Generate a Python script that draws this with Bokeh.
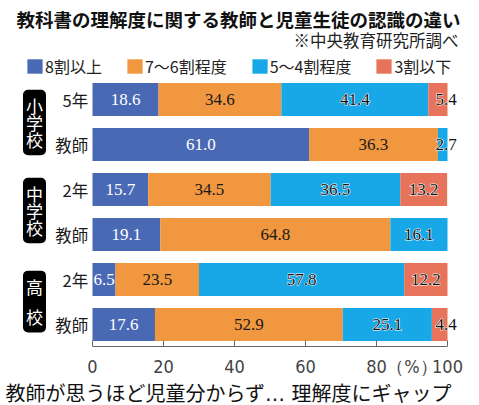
from bokeh.plotting import figure
from bokeh.models import (ColumnDataSource, Range1d, Label, Legend, LegendItem,
                          FixedTicker, Title)
from bokeh.core.properties import value
from bokeh.embed import file_html
from bokeh.resources import INLINE

# ---------------- data ----------------
groups = ["小学校", "小学校", "中学校", "中学校", "高校", "高校"]
rows = ["5年", "教師", "2年", "教師", "2年", "教師"]
series_names = ["8割以上", "7〜6割程度", "5〜4割程度", "3割以下"]
s_8 = [18.6, 61.0, 15.7, 19.1, 6.5, 17.6]
s_76 = [34.6, 36.3, 34.5, 64.8, 23.5, 52.9]
s_54 = [41.4, 2.7, 36.5, 16.1, 57.8, 25.1]
s_3 = [5.4, 0.0, 13.2, 0.0, 12.2, 4.4]
x_ticks = [0, 20, 40, 60, 80, 100]
unit_label = "（%）"

title_text = "教科書の理解度に関する教師と児童生徒の認識の違い"
source_text = "※中央教育研究所調べ"
caption_text = "教師が思うほど児童分からず… 理解度にギャップ"

colors = ["#4a69b4", "#f0973f", "#18a8e8", "#e8735b"]
series = [s_8, s_76, s_54, s_3]
keys = ["s8", "s76", "s54", "s3"]
row_pos = list(range(len(rows)))

JP = "Noto Sans CJK JP"
SERIF = "Liberation Serif"
NARROW = "'Liberation Sans Narrow', 'DejaVu Sans Condensed', sans-serif"

PX = 3.55          # pixels per percent
X0 = 92            # pixel of 0 %
FB = 346           # expected frame bottom (pixels)
Y_TOP = -2.2
Y_BOTTOM = Y_TOP + FB / 45.0

p = figure(
    width=479, height=405,
    min_border_left=0, min_border_right=0, min_border_top=0, min_border_bottom=54,
    x_range=Range1d(-X0 / PX, (479 - X0) / PX),
    y_range=Range1d(Y_BOTTOM, Y_TOP),
    y_axis_location=None,
    output_backend="svg", toolbar_location=None,
)
p.outline_line_color = None
p.xgrid.visible = False
p.ygrid.visible = False
p.background_fill_color = "white"
p.border_fill_color = "white"

data = {"y": row_pos, "rows": rows}
for k, s in zip(keys, series):
    data[k] = s
src = ColumnDataSource(data)

renderers = p.hbar_stack(keys, y="y", height=0.73, color=colors, source=src,
                         line_color=None)

# value labels
cum = [0.0] * len(rows)
for i, s in enumerate(series):
    xs, ys, ts = [], [], []
    for j, v in enumerate(s):
        start = cum[j]
        end = start + v
        cum[j] = end
        if v <= 0:
            continue
        xc = (start + end) / 2
        if v < 6 and end >= 99.9:
            xc = 99.6
        xs.append(xc)
        ys.append(row_pos[j])
        ts.append(f"{v:.1f}")
    lsrc = ColumnDataSource(dict(x=xs, y=ys, t=ts))
    kw = dict(x="x", y="y", text="t", source=lsrc, text_align="center",
              text_baseline="middle", text_font=value(SERIF), text_font_size="17px")
    if i == 0:
        p.text(text_color="white", **kw)
    elif i == 1:
        p.text(text_color="#1a1a1a", **kw)
    else:
        p.text(text_color="white", text_outline_color="white", **kw)
        p.text(text_color="#111111", **kw)

# row labels
p.text(x=-1.2, y="y", text="rows", source=src, text_align="right",
       text_baseline="middle", text_font=value(JP), text_font_size="16.5px",
       text_color="#1a1a1a")

# group boxes (vertical text)
for txt, yc, lh in [("小\n学\n校", FB - 122, 0.69), ("中\n学\n校", FB - 210, 0.69),
                    ("高\n校", FB - 301, 1.23)]:
    p.add_layout(Label(x=34, y=yc, x_units="screen", y_units="screen", text=txt,
                       text_align="center", text_baseline="middle",
                       text_font=JP, text_font_size="17px", text_color="white",
                       text_line_height=lh,
                       background_fill_color="black", border_radius=5,
                       padding=dict(x=3, y=3)))

# x axis (extra position 90 carries the unit label, its tick mark is hidden)
ax = p.xaxis[0]
ax.bounds = (x_ticks[0], x_ticks[-1])
ax.ticker = FixedTicker(ticks=x_ticks + [90])
ax.major_label_overrides = {90: unit_label}
ax.axis_line_color = "#666666"
ax.major_tick_line_color = None
ax.minor_tick_line_color = None
ax.major_label_standoff = 3
ax.axis_label_standoff = 0
ax.major_label_text_font = NARROW
ax.major_label_text_font_size = "18px"
ax.major_label_text_color = "#444444"
tick_len = 6 / 45
p.segment(x0=x_ticks, x1=x_ticks, y0=[Y_BOTTOM] * len(x_ticks),
          y1=[Y_BOTTOM - tick_len] * len(x_ticks), line_color="#666666", line_width=1)

# titles
p.add_layout(Label(x=16, y=FB - 18.5, x_units="screen", y_units="screen", text=title_text,
                   text_align="left", text_baseline="middle", text_font=JP,
                   text_font_size="18.5px", text_font_style="bold", text_color="#111111"))
p.add_layout(Label(x=458, y=FB - 39, x_units="screen", y_units="screen", text=source_text,
                   text_align="right", text_baseline="middle", text_font=JP,
                   text_font_size="16.5px", text_color="#222222"))
p.add_layout(Title(text=caption_text, align="left", offset=5, standoff=0,
                   text_font="'DejaVu Sans', 'Noto Sans CJK JP'", text_font_size="20px",
                   text_font_style="normal", text_color="#111111"), "below")

# legend
legend = Legend(
    items=[LegendItem(label=n, renderers=[r]) for n, r in zip(series_names, renderers)],
    orientation="horizontal", location=(25, FB - 78), padding=0, margin=0, spacing=23,
    glyph_width=19, glyph_height=18, label_standoff=1, label_height=18,
    label_text_font=JP, label_text_font_size="16px", label_text_color="#222222",
    background_fill_alpha=0, border_line_color=None,
)
p.add_layout(legend)

open("out.html", "w").write(file_html(p, INLINE))
